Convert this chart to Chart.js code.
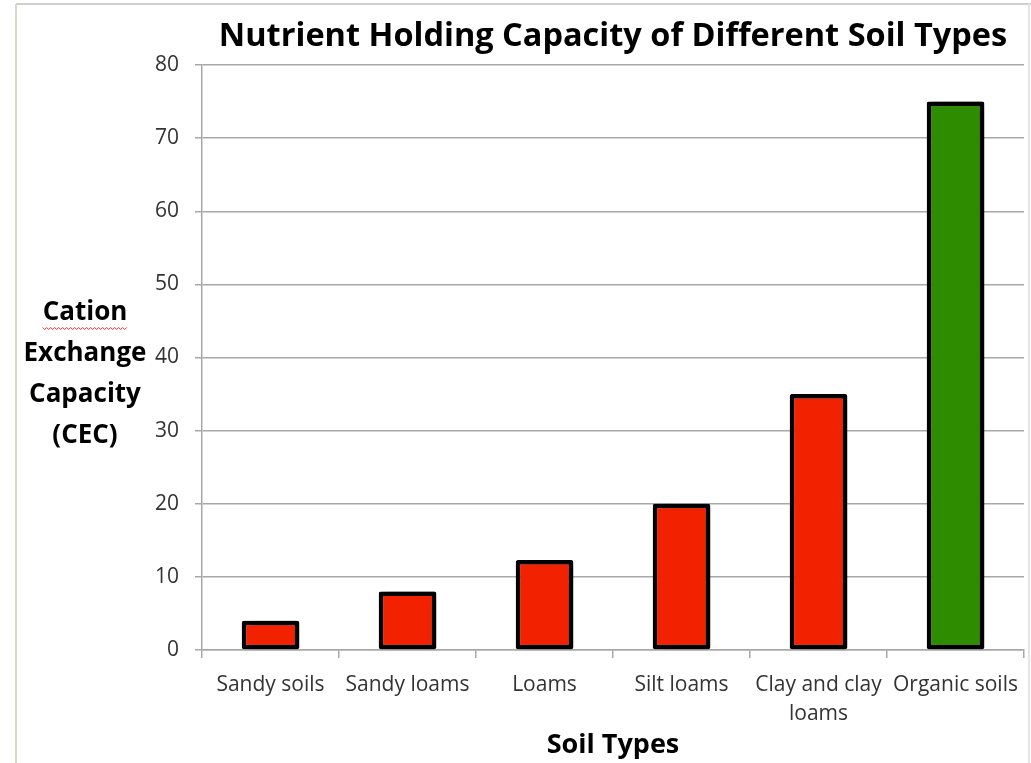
<!DOCTYPE html>
<html>
<head>
<meta charset="utf-8">
<script src="https://cdn.jsdelivr.net/npm/chart.js@4"></script>
<style>
  html, body { margin: 0; padding: 0; background: #fff; }
  #wrap { width: 1031px; height: 763px; }
</style>
</head>
<body>
<div id="wrap"><canvas id="chart" width="1031" height="763"></canvas></div>
<script>
const soilTypes = ["Sandy soils", "Sandy loams", "Loams", "Silt loams", ["Clay and clay", "loams"], "Organic soils"];
const cecValues = [4, 8, 12.3, 20, 35, 75];
const barColors = ["#f22200", "#f22200", "#f22200", "#f22200", "#f22200", "#2e8c00"];
const yTitleLines = ["Cation", "Exchange", "Capacity", "(CEC)"];
const yMin = 0, yMax = 80, yStep = 10;

const FONT = "'Open Sans', sans-serif";
const GRID = "#a8a8a8";
const TICK_COLOR = "#333333";

// frame lines around the picture
const framePlugin = {
  id: "frame",
  beforeDraw(chart) {
    const ctx = chart.ctx;
    ctx.save();
    ctx.fillStyle = "#fff";
    ctx.fillRect(0, 0, chart.width, chart.height);
    ctx.lineWidth = 2;
    ctx.strokeStyle = "#cfcfcf";
    ctx.beginPath();
    ctx.moveTo(16, 4); ctx.lineTo(chart.width, 4);
    ctx.stroke();
    ctx.strokeStyle = "#dcd8cc";
    ctx.beginPath();
    ctx.moveTo(16, 4); ctx.lineTo(16, chart.height);
    ctx.stroke();
    ctx.strokeStyle = "#e6e6e6";
    ctx.beginPath();
    ctx.moveTo(1029, 4); ctx.lineTo(1029, chart.height);
    ctx.stroke();
    ctx.restore();
  }
};

// drop shadow behind the bars
const shadowPlugin = {
  id: "barShadow",
  beforeDatasetsDraw(chart) {
    const ctx = chart.ctx;
    ctx.save();
    ctx.shadowColor = "rgba(0,0,0,0.7)";
    ctx.shadowBlur = 10;
    ctx.shadowOffsetX = 6;
    ctx.shadowOffsetY = 1;
  },
  afterDatasetsDraw(chart) {
    chart.ctx.restore();
  }
};

// horizontal, stacked y axis title
const yTitlePlugin = {
  id: "yTitle",
  afterDraw(chart) {
    const { ctx, chartArea } = chart;
    const cx = chartArea.left - 117;
    const cy = (chartArea.top + chartArea.bottom) / 2 + 17;
    ctx.save();
    ctx.font = "bold 26px " + FONT;
    ctx.fillStyle = "#000";
    ctx.textAlign = "center";
    ctx.textBaseline = "middle";
    yTitleLines.forEach((line, i) => {
      ctx.fillText(line, cx, cy + (i - 1.5) * 41);
    });
    // spell-check squiggle under the first word
    const w = ctx.measureText(yTitleLines[0]).width;
    const y0 = cy - 1.5 * 41 + 15;
    ctx.strokeStyle = "#e03030";
    ctx.lineWidth = 1;
    ctx.beginPath();
    for (let x = cx - w / 2, k = 0; x <= cx + w / 2; x += 2, k++) {
      const y = y0 + (k % 2 ? 1.5 : -0.5);
      if (k === 0) ctx.moveTo(x, y); else ctx.lineTo(x, y);
    }
    ctx.stroke();
    ctx.restore();
  }
};

new Chart(document.getElementById("chart").getContext("2d"), {
  type: "bar",
  data: {
    labels: soilTypes,
    datasets: [{
      data: cecValues,
      backgroundColor: barColors,
      borderColor: "#000",
      borderWidth: 4.5,
      borderSkipped: false,
      borderRadius: 2,
      categoryPercentage: 1,
      barPercentage: 0.42
    }]
  },
  options: {
    responsive: false,
    animation: false,
    layout: { padding: { left: 0, right: 7, top: 0, bottom: 0 } },
    plugins: {
      legend: { display: false },
      tooltip: { enabled: false },
      title: {
        display: true,
        text: "Nutrient Holding Capacity of Different Soil Types",
        fullSize: false,
        color: "#000",
        font: { family: FONT, size: 32.5, weight: "bold", lineHeight: 1.2 },
        padding: { top: 17, bottom: 9 }
      }
    },
    scales: {
      x: {
        afterFit(scale) { scale.height = 113; },
        grid: {
          offset: true,
          drawOnChartArea: false,
          color: GRID,
          lineWidth: 1.5,
          tickLength: 8
        },
        border: { display: true, color: GRID, width: 1.5 },
        ticks: {
          color: TICK_COLOR,
          padding: 12,
          maxRotation: 0,
          autoSkip: false,
          font: { family: FONT, size: 21, lineHeight: 1.4 }
        },
        title: {
          display: true,
          text: "Soil Types",
          color: "#000",
          font: { family: FONT, size: 27, weight: "bold", lineHeight: 1.2 },
          padding: { top: 0, bottom: 1 }
        }
      },
      y: {
        min: yMin,
        max: yMax,
        afterFit(scale) { scale.width = 202; },
        grid: {
          color: GRID,
          lineWidth: 1.5,
          tickLength: 7
        },
        border: { display: true, color: GRID, width: 1.5 },
        ticks: {
          stepSize: yStep,
          color: TICK_COLOR,
          padding: 16,
          font: { family: FONT, size: 21 }
        }
      }
    }
  },
  plugins: [framePlugin, shadowPlugin, yTitlePlugin]
});
</script>
</body>
</html>
